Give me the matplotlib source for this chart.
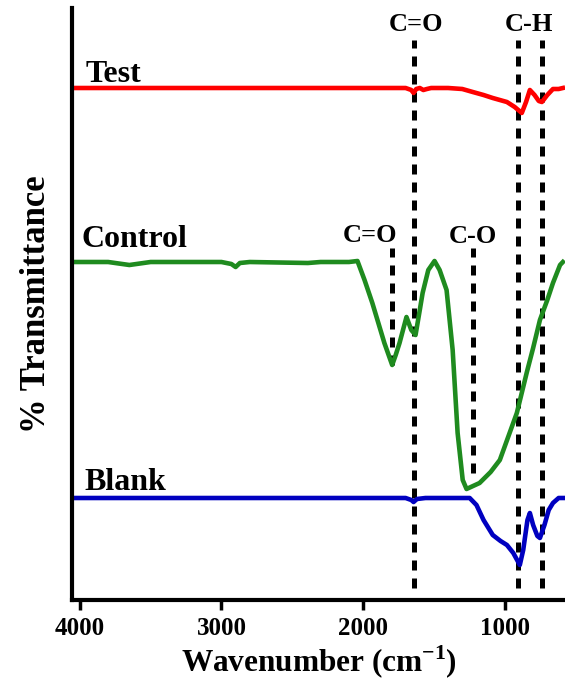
import numpy as np
import matplotlib
matplotlib.use("Agg")
import matplotlib.pyplot as plt

plt.rcParams['font.family'] = ['Liberation Serif', 'DejaVu Serif']
plt.rcParams['font.weight'] = 'bold'
plt.rcParams['mathtext.fontset'] = 'custom'
plt.rcParams['mathtext.rm'] = 'Liberation Serif:bold'
plt.rcParams['mathtext.bf'] = 'Liberation Serif:bold'

# FTIR spectra (transmittance, arbitrary offset units)
test_wn = [4050, 3500, 3000, 2500, 2000, 1700, 1660, 1644, 1625, 1600, 1575, 1550, 1520,
           1400, 1300, 1226, 1150, 1085, 985, 930, 880, 850, 823, 790, 760, 738, 700,
           660, 620, 590]
test_t = [512, 512, 512, 512, 512, 512, 510, 507, 511, 512, 510, 511, 512,
          512, 511, 508, 505, 502, 498, 493, 487, 498, 510, 505, 499, 498, 505,
          511, 511, 512]

control_wn = [4050, 3800, 3650, 3500, 3000, 2930, 2900, 2870, 2800, 2390, 2300, 2100, 2040,
              1990, 1935, 1850, 1795, 1770, 1743, 1694, 1660, 1630, 1600, 1580, 1540, 1496,
              1460, 1411, 1368, 1333, 1297, 1270, 1178, 1100, 1035, 915, 844, 800, 752,
              700, 660, 610, 590]
control_t = [338, 338, 335, 338, 338, 336, 333, 337, 338, 337, 338, 338, 339,
             320, 297, 257, 235, 245, 257, 283, 270, 265, 290, 307, 330, 339,
             330, 310, 250, 167, 120, 111, 117, 128, 140, 187, 228, 252, 280,
             300, 317, 335, 338]

blank_wn = [4050, 3000, 2000, 1700, 1660, 1644, 1620, 1560, 1400, 1248, 1200, 1150, 1085,
            1030, 985, 940, 894, 870, 840, 823, 800, 770, 752, 720, 690, 660, 620, 590]
blank_t = [102, 102, 102, 102, 100, 98, 101, 102, 102, 102, 95, 80, 65,
           59, 55, 47, 35, 50, 80, 87, 75, 64, 62, 75, 90, 97, 102, 102]

# peak markers: (wavenumber, y from, y to)
peak_wn = [1644, 905, 740, 1795, 1226]
peak_lo = [12, 12, 12, 235, 127]
peak_hi = [560, 560, 560, 352, 352]

fig = plt.figure(figsize=(5.65, 6.82), dpi=100)
ax = fig.add_axes([72 / 565, 82 / 682, 1 - 72 / 565, 592 / 682])

for w, lo, hi in zip(peak_wn, peak_lo, peak_hi):
    ax.plot([w, w], [lo, hi], color='black', lw=3.6, linestyle=(0, (2.0, 1.6)),
            dash_capstyle='butt', zorder=1)

ax.plot(test_wn, test_t, color='#ff0000', lw=3.3, solid_joinstyle='round', zorder=2)
ax.plot(control_wn, control_t, color='#1f8b1f', lw=3.3, solid_joinstyle='round', zorder=2)
ax.plot(blank_wn, blank_t, color='#0000c0', lw=3.3, solid_joinstyle='round', zorder=2)

ax.set_xlim(4055, 575)
ax.set_ylim(0, 592)

ax.text(3960, 518, 'Test', fontsize=23, fontweight='bold', ha='left', va='baseline')
ax.text(3990, 353, 'Control', fontsize=23, fontweight='bold', ha='left', va='baseline')
ax.text(3970, 110, 'Blank', fontsize=23, fontweight='bold', ha='left', va='baseline')
ax.text(1630, 569, 'C=O', fontsize=19, fontweight='bold', ha='center', va='baseline')
ax.text(830, 569, 'C-H', fontsize=19, fontweight='bold', ha='center', va='baseline')
ax.text(1950, 358, 'C=O', fontsize=19, fontweight='bold', ha='center', va='baseline')
ax.text(1226, 357, 'C-O', fontsize=19, fontweight='bold', ha='center', va='baseline')

ax.spines['top'].set_visible(False)
ax.spines['right'].set_visible(False)
ax.spines['left'].set_linewidth(3)
ax.spines['bottom'].set_linewidth(3)
ax.set_yticks([])
ax.set_xticks([4000, 3000, 2000, 1000])
ax.tick_params(axis='x', direction='out', length=7, width=2.5, labelsize=18, pad=5)
for lab in ax.get_xticklabels():
    lab.set_fontweight('bold')

ax.set_xlabel('Wavenumber (cm$^{\\mathrm{-1}}$)', fontsize=22.5, fontweight='bold', labelpad=3)
ax.set_ylabel('% Transmittance', fontsize=25, fontweight='bold', labelpad=14)

fig.savefig('out.png', dpi=100)
